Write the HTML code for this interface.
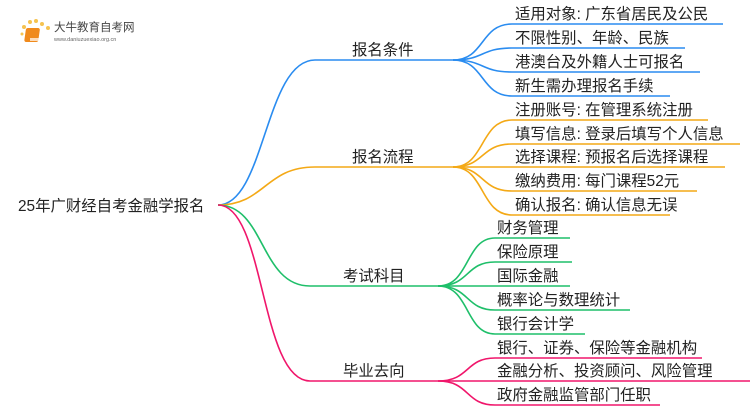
<!DOCTYPE html>
<html><head><meta charset="utf-8"><style>
body{margin:0;background:#fff;}
svg text{font-family:"Liberation Sans","Noto Sans CJK SC",sans-serif;fill:#222;}
</style></head><body>
<svg width="750" height="410" viewBox="0 0 750 410" xmlns="http://www.w3.org/2000/svg">
<g>
<circle cx="30" cy="22" r="2" fill="#f6c350"/><circle cx="36" cy="21" r="2" fill="#f6c350"/><circle cx="42" cy="24" r="2" fill="#f6c350"/><circle cx="48" cy="28" r="2" fill="#f6c350"/><circle cx="24" cy="27" r="2" fill="#f6c350"/><circle cx="22" cy="34" r="1.5" fill="#f6c350"/>
<rect x="30" y="28" width="14" height="14" rx="2" fill="#f08a1c" transform="skewX(-8)"/>
<rect x="30" y="38" width="10" height="3" fill="#fff" opacity="0.7"/>
<text x="54" y="31" font-size="11.5" style="fill:#444">大牛教育自考网</text>
<text x="54" y="41" font-size="5.5" style="fill:#666">www.daniuzuexiao.org.cn</text>
</g>
<g fill="none" stroke-width="1.6">
<path d="M218 205 C265 205 265 60 315 60 L453 60" stroke="#2a8cf0"/>
<path d="M218 205 C265 205 265 167 315 167 L453 167" stroke="#f4a916"/>
<path d="M218 205 C265 205 260 286 310 286 L438 286" stroke="#1fbf6a"/>
<path d="M218 205 C265 205 260 381 310 381 L438 381" stroke="#f0166b"/>
<g stroke="#2a8cf0">
<path d="M453 60 C485 60 480 24 512 24 L723 24"/>
<path d="M453 60 C485 60 480 48 512 48 L685 48"/>
<path d="M453 60 C485 60 480 72 512 72 L700 72"/>
<path d="M453 60 C485 60 480 96 512 96 L670 96"/>
</g>
<g stroke="#f4a916">
<path d="M453 167 C485 167 480 120 512 120 L708 120"/>
<path d="M453 167 C485 167 480 144 512 144 L740 144"/>
<path d="M453 167 L725 167"/>
<path d="M453 167 C485 167 480 191 512 191 L697 191"/>
<path d="M453 167 C485 167 480 215 512 215 L670 215"/>
</g>
<g stroke="#1fbf6a">
<path d="M438 286 C470 286 465 238 495 238 L570 238"/>
<path d="M438 286 C470 286 465 262 495 262 L572 262"/>
<path d="M438 286 L570 286"/>
<path d="M438 286 C470 286 465 310 495 310 L630 310"/>
<path d="M438 286 C470 286 465 334 495 334 L585 334"/>
</g>
<g stroke="#f0166b">
<path d="M438 381 C470 381 465 358 495 358 L702 358"/>
<path d="M438 381 L750 381"/>
<path d="M438 381 C470 381 465 405 495 405 L660 405"/>
</g>
</g>
<g font-size="15.4">
<text x="18" y="211">25年广财经自考金融学报名</text>
<text x="352" y="55">报名条件</text>
<text x="352" y="162">报名流程</text>
<text x="343" y="281">考试科目</text>
<text x="343" y="376">毕业去向</text>
<text x="515" y="19">适用对象: 广东省居民及公民</text>
<text x="515" y="43">不限性别、年龄、民族</text>
<text x="515" y="67">港澳台及外籍人士可报名</text>
<text x="515" y="91">新生需办理报名手续</text>
<text x="515" y="115">注册账号: 在管理系统注册</text>
<text x="515" y="139">填写信息: 登录后填写个人信息</text>
<text x="515" y="162">选择课程: 预报名后选择课程</text>
<text x="515" y="186">缴纳费用: 每门课程52元</text>
<text x="515" y="210">确认报名: 确认信息无误</text>
<text x="497" y="233">财务管理</text>
<text x="497" y="257">保险原理</text>
<text x="497" y="281">国际金融</text>
<text x="497" y="305">概率论与数理统计</text>
<text x="497" y="329">银行会计学</text>
<text x="497" y="353">银行、证券、保险等金融机构</text>
<text x="497" y="376">金融分析、投资顾问、风险管理</text>
<text x="497" y="400">政府金融监管部门任职</text>
</g>
</svg>
</body></html>
